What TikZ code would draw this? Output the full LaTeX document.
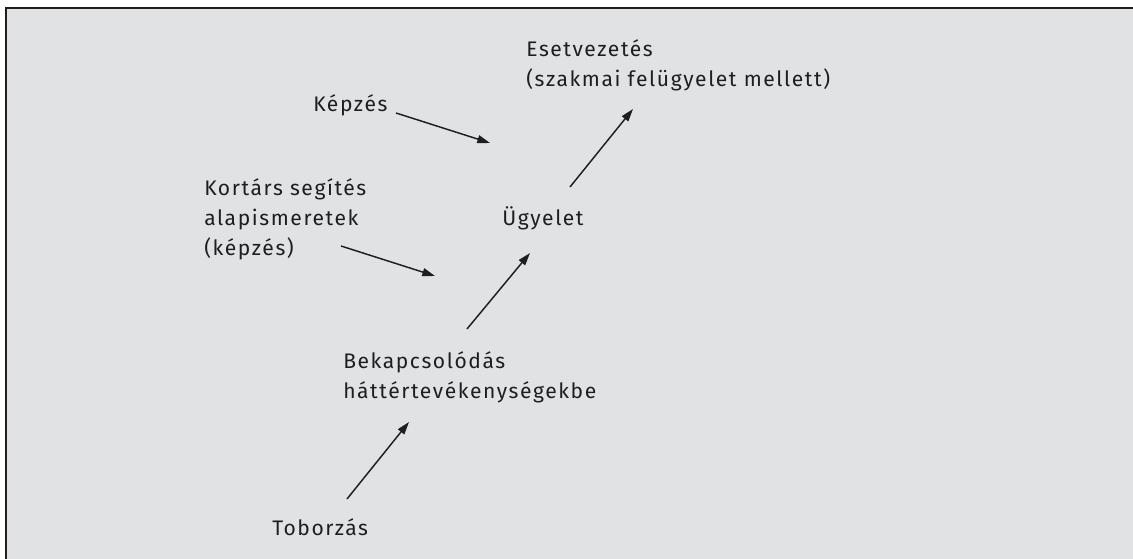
\documentclass[tikz,border=0pt]{standalone}
\usepackage{fontspec}
\setmainfont{Fira Sans}[LetterSpace=7.5]
\usetikzlibrary{arrows.meta}

\definecolor{QuietPanel}{RGB}{225,226,228}
\definecolor{InkLine}{RGB}{30,30,30}
\colorlet{ColourBase}{QuietPanel}
\colorlet{ColourDark}{InkLine}

\begin{document}
\begin{tikzpicture}[
    x=0.75pt, y=-0.75pt,
    label/.style={anchor=base west, inner sep=0pt, align=left,
      font=\fontsize{15.8}{22.5}\selectfont, text=ColourDark},
    flow/.style={ColourDark, line width=1.1pt,
      -{Stealth[length=9.5pt, width=6pt, inset=0pt]}},
  ]

  \useasboundingbox (0,0) rectangle (1133,559);

  \fill[ColourBase] (6,8) rectangle (1133,559);
  \draw[ColourDark, line width=1.3pt] (1133,8) -- (6,8) -- (6,559);

  % base west of the last line
  \node[label] (esetvez) at (526,87) {Esetvezetés\\(szakmai felügyelet mellett)};
  \node[label] (kepzes) at (313,112) {Képzés};
  \node[label] (ugyelet) at (502,226) {Ügyelet};
  \node[label] (kortars) at (204,256) {Kortárs segítés\\alapismeretek\\(képzés)};
  \node[label] (bekapcs) at (343,399) {Bekapcsolódás\\háttértevékenységekbe};
  \node[label] (toborzas) at (272,536) {Toborzás};

  % arrow ends
  \coordinate (kepzes-tip) at (490,143);
  \coordinate (kortars-tip) at (435,276);
  \coordinate (bekapcs-tip) at (409,422);
  \coordinate (ugyelet-tip) at (530,253);
  \coordinate (esetvez-tip) at (633,109);

  \draw[flow] (kepzes.base west) ++(83,1) -- (kepzes-tip);
  \draw[flow] (kortars.base west) ++(137,-10) -- (kortars-tip);
  \draw[flow] (toborzas.base west) ++(75,-37) -- (bekapcs-tip);
  \draw[flow] (bekapcs.base west) ++(124,-70) -- (ugyelet-tip);
  \draw[flow] (ugyelet.base west) ++(68,-39) -- (esetvez-tip);

\end{tikzpicture}
\end{document}
